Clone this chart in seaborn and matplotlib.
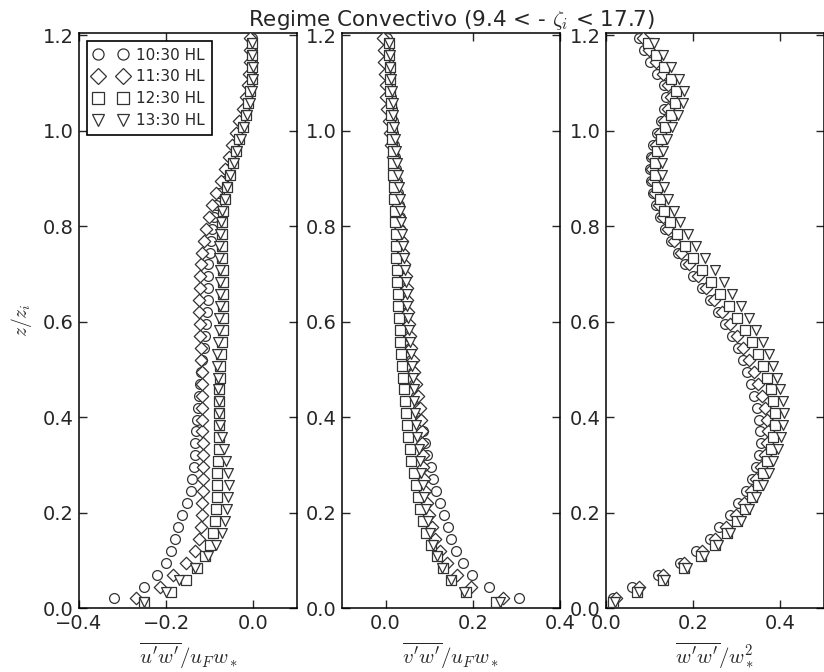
import numpy as np
import pandas as pd
import matplotlib
matplotlib.use("Agg")
import matplotlib.pyplot as plt
from matplotlib.lines import Line2D
import seaborn as sns

# ---------------- data ----------------
times = ["10:30 HL", "11:30 HL", "12:30 HL", "13:30 HL"]

# heights (z/zi) for 10:30 and 11:30
Z_A = [0.020, 0.045, 0.070, 0.095, 0.120, 0.145, 0.170, 0.195, 0.220, 0.245,
       0.270, 0.295, 0.320, 0.345, 0.370, 0.395, 0.420, 0.445, 0.470, 0.495,
       0.520, 0.545, 0.570, 0.595, 0.620, 0.645, 0.670, 0.695, 0.720, 0.745,
       0.770, 0.795, 0.820, 0.845, 0.870, 0.895, 0.920, 0.945, 0.970, 0.995,
       1.020, 1.045, 1.070, 1.095, 1.120, 1.145, 1.170, 1.195]
# heights (z/zi) for 12:30 and 13:30
Z_B = [0.012, 0.033, 0.058, 0.083, 0.108, 0.133, 0.158, 0.183, 0.208, 0.233,
       0.258, 0.283, 0.308, 0.333, 0.358, 0.383, 0.408, 0.433, 0.458, 0.483,
       0.508, 0.533, 0.558, 0.583, 0.608, 0.633, 0.658, 0.683, 0.708, 0.733,
       0.758, 0.783, 0.808, 0.833, 0.858, 0.883, 0.908, 0.933, 0.958, 0.983,
       1.008, 1.033, 1.058, 1.083, 1.108, 1.133, 1.158, 1.183]

# u'w'/uF w*
uw_1030 = [-0.320, -0.250, -0.220, -0.200, -0.190, -0.179, -0.172, -0.163, -0.153, -0.144,
           -0.140, -0.137, -0.135, -0.133, -0.131, -0.129, -0.127, -0.125, -0.122, -0.120,
           -0.117, -0.113, -0.110, -0.108, -0.106, -0.105, -0.105, -0.104, -0.103, -0.100,
           -0.097, -0.094, -0.090, -0.085, -0.078, -0.070, -0.062, -0.053, -0.045, -0.037,
           -0.030, -0.022, -0.015, -0.010, -0.006, -0.004, -0.003, -0.003]
uw_1130 = [-0.270, -0.215, -0.185, -0.155, -0.135, -0.125, -0.120, -0.118, -0.117, -0.116,
           -0.115, -0.115, -0.115, -0.116, -0.117, -0.117, -0.118, -0.118, -0.118, -0.119,
           -0.120, -0.121, -0.122, -0.123, -0.124, -0.124, -0.123, -0.122, -0.120, -0.117,
           -0.113, -0.108, -0.102, -0.094, -0.085, -0.075, -0.066, -0.057, -0.048, -0.040,
           -0.032, -0.025, -0.018, -0.013, -0.010, -0.008, -0.007, -0.007]
uw_1230 = [-0.250, -0.190, -0.155, -0.130, -0.112, -0.100, -0.093, -0.088, -0.085, -0.084,
           -0.083, -0.083, -0.082, -0.080, -0.079, -0.079, -0.079, -0.079, -0.078, -0.077,
           -0.076, -0.074, -0.072, -0.070, -0.069, -0.069, -0.069, -0.069, -0.070, -0.071,
           -0.072, -0.072, -0.071, -0.069, -0.065, -0.060, -0.054, -0.047, -0.040, -0.032,
           -0.025, -0.018, -0.012, -0.007, -0.004, -0.003, -0.003, -0.004]
uw_1330 = [-0.250, -0.200, -0.170, -0.135, -0.105, -0.085, -0.072, -0.064, -0.060, -0.058,
           -0.057, -0.059, -0.063, -0.068, -0.073, -0.077, -0.079, -0.080, -0.081, -0.082,
           -0.083, -0.083, -0.082, -0.080, -0.078, -0.077, -0.076, -0.076, -0.077, -0.078,
           -0.078, -0.077, -0.075, -0.071, -0.066, -0.060, -0.053, -0.045, -0.037, -0.029,
           -0.021, -0.014, -0.008, -0.004, -0.002, -0.002, -0.003, -0.004]

# v'w'/uF w*
vw_1030 = [0.305, 0.238, 0.198, 0.177, 0.162, 0.151, 0.142, 0.133, 0.124, 0.115,
           0.108, 0.103, 0.096, 0.090, 0.085, 0.080, 0.075, 0.070, 0.066, 0.062,
           0.058, 0.055, 0.052, 0.050, 0.048, 0.046, 0.044, 0.042, 0.040, 0.038,
           0.036, 0.034, 0.032, 0.030, 0.028, 0.026, 0.024, 0.022, 0.020, 0.018,
           0.016, 0.014, 0.012, 0.010, 0.008, 0.006, 0.005, 0.004]
vw_1130 = [0.270, 0.195, 0.163, 0.140, 0.125, 0.114, 0.106, 0.100, 0.095, 0.091,
           0.088, 0.086, 0.085, 0.084, 0.083, 0.081, 0.078, 0.074, 0.070, 0.066,
           0.062, 0.059, 0.056, 0.054, 0.052, 0.050, 0.048, 0.046, 0.043, 0.040,
           0.037, 0.034, 0.031, 0.028, 0.025, 0.022, 0.019, 0.016, 0.013, 0.010,
           0.007, 0.004, 0.002, 0.000, -0.002, -0.003, -0.004, -0.005]
vw_1230 = [0.253, 0.185, 0.150, 0.132, 0.118, 0.104, 0.093, 0.085, 0.079, 0.074,
           0.069, 0.064, 0.059, 0.055, 0.051, 0.048, 0.046, 0.044, 0.042, 0.040,
           0.038, 0.036, 0.034, 0.032, 0.030, 0.029, 0.028, 0.027, 0.026, 0.025,
           0.024, 0.023, 0.022, 0.021, 0.020, 0.019, 0.018, 0.017, 0.016, 0.015,
           0.014, 0.013, 0.012, 0.011, 0.010, 0.009, 0.008, 0.008]
vw_1330 = [0.262, 0.180, 0.150, 0.130, 0.118, 0.109, 0.102, 0.097, 0.092, 0.088,
           0.085, 0.082, 0.079, 0.076, 0.073, 0.070, 0.068, 0.066, 0.064, 0.062,
           0.060, 0.058, 0.056, 0.054, 0.052, 0.050, 0.048, 0.046, 0.044, 0.042,
           0.040, 0.038, 0.036, 0.034, 0.032, 0.030, 0.028, 0.026, 0.024, 0.022,
           0.020, 0.018, 0.016, 0.014, 0.012, 0.010, 0.009, 0.008]

# w'w'/w*^2
ww_1030 = [0.017, 0.060, 0.120, 0.170, 0.207, 0.238, 0.260, 0.285, 0.303, 0.320,
           0.334, 0.345, 0.352, 0.355, 0.354, 0.350, 0.346, 0.340, 0.333, 0.323,
           0.315, 0.303, 0.288, 0.273, 0.256, 0.238, 0.220, 0.200, 0.182, 0.164,
           0.148, 0.135, 0.124, 0.115, 0.108, 0.103, 0.101, 0.103, 0.108, 0.116,
           0.125, 0.134, 0.138, 0.132, 0.118, 0.102, 0.088, 0.075]
ww_1130 = [0.022, 0.075, 0.130, 0.180, 0.220, 0.250, 0.275, 0.298, 0.316, 0.332,
           0.345, 0.356, 0.364, 0.369, 0.371, 0.369, 0.364, 0.357, 0.349, 0.339,
           0.328, 0.315, 0.300, 0.284, 0.266, 0.248, 0.229, 0.210, 0.191, 0.173,
           0.157, 0.143, 0.131, 0.121, 0.113, 0.108, 0.106, 0.108, 0.114, 0.123,
           0.133, 0.143, 0.148, 0.143, 0.130, 0.114, 0.098, 0.084]
ww_1230 = [0.015, 0.070, 0.130, 0.178, 0.218, 0.250, 0.277, 0.300, 0.318, 0.334,
           0.348, 0.360, 0.370, 0.378, 0.384, 0.387, 0.387, 0.384, 0.378, 0.370,
           0.360, 0.348, 0.334, 0.318, 0.300, 0.281, 0.261, 0.240, 0.220, 0.200,
           0.181, 0.163, 0.147, 0.134, 0.124, 0.117, 0.113, 0.113, 0.117, 0.125,
           0.136, 0.148, 0.158, 0.160, 0.150, 0.133, 0.114, 0.097]
ww_1330 = [0.020, 0.075, 0.135, 0.185, 0.225, 0.258, 0.285, 0.309, 0.328, 0.345,
           0.360, 0.373, 0.384, 0.394, 0.402, 0.407, 0.408, 0.405, 0.400, 0.393,
           0.384, 0.373, 0.360, 0.345, 0.328, 0.310, 0.290, 0.270, 0.249, 0.228,
           0.207, 0.188, 0.170, 0.155, 0.143, 0.134, 0.129, 0.128, 0.131, 0.139,
           0.151, 0.165, 0.176, 0.178, 0.168, 0.150, 0.130, 0.110]

x_ticks_labels = [[-0.4, -0.2, 0.0], [0.0, 0.2, 0.4], [0.0, 0.2, 0.4]]
y_ticks = [0.0, 0.2, 0.4, 0.6, 0.8, 1.0, 1.2]
x_labels = [r"$\overline{u'w'}/u_Fw_*$", r"$\overline{v'w'}/u_Fw_*$", r"$\overline{w'w'}/w_*^2$"]
title = r"Regime Convectivo (9.4 < - $\zeta_i$ < 17.7)"

# ---------------- build tables ----------------
def build(series):
    frames = []
    for t, zz, vals in zip(times, [Z_A, Z_A, Z_B, Z_B], series):
        frames.append(pd.DataFrame({"z": zz, "val": vals, "time": t}))
    return pd.concat(frames, ignore_index=True)

panels = [build([uw_1030, uw_1130, uw_1230, uw_1330]),
          build([vw_1030, vw_1130, vw_1230, vw_1330]),
          build([ww_1030, ww_1130, ww_1230, ww_1330])]

# ---------------- style ----------------
sns.set_style("ticks")
plt.rcParams["font.family"] = ["DejaVu Sans"]
plt.rcParams["mathtext.fontset"] = "cm"
plt.rcParams["axes.linewidth"] = 1.1

markers = {"10:30 HL": "o", "11:30 HL": "D", "12:30 HL": "s", "13:30 HL": "v"}
sizes = {"o": 50, "D": 40, "s": 45, "v": 50}
edge = "#333333"

fig = plt.figure(figsize=(8.24, 6.72), dpi=100)
W, H = 824.0, 672.0
lefts = [79, 342, 606]
axw = 218
bottom_px, top_px = 608, 33
xlims = [(-0.4, 0.1), (-0.1, 0.4), (0.0, 0.5)]

axes = []
for i, lp in enumerate(lefts):
    ax = fig.add_axes([lp / W, (H - bottom_px) / H, axw / W, (bottom_px - top_px) / H])
    df = panels[i]
    for t in times:
        sub = df[df["time"] == t]
        m = markers[t]
        sns.scatterplot(data=sub, x="val", y="z", marker=m, s=sizes[m],
                        color="white", edgecolor=edge, linewidth=0.9,
                        ax=ax, legend=False, zorder=3)
    ax.set_xlim(*xlims[i])
    ax.set_ylim(0.0, 1.205)
    ax.set_xticks(x_ticks_labels[i])
    ax.set_yticks(y_ticks)
    ax.tick_params(direction="in", top=True, right=True, length=6, width=1,
                   labelsize=14, pad=4)
    ax.set_xlabel(x_labels[i], fontsize=15, labelpad=6)
    ax.set_ylabel("")
    for sp in ax.spines.values():
        sp.set_visible(True)
        sp.set_color("black")
    axes.append(ax)

axes[0].set_ylabel(r"$z/z_i$", fontsize=14, labelpad=6)

handles = [Line2D([], [], linestyle="none", marker=markers[t], markersize=8,
                  markerfacecolor="white", markeredgecolor=edge, markeredgewidth=0.9)
           for t in times]
leg = axes[0].legend(handles, times, loc="upper left", numpoints=2, fontsize=11,
                     frameon=True, fancybox=False, edgecolor="black",
                     handlelength=2.2, borderaxespad=0.5, labelspacing=0.45,
                     handletextpad=0.6, borderpad=0.45)
leg.get_frame().set_linewidth(1.2)
leg.get_frame().set_alpha(1)

axes[1].set_title(title, fontsize=15.5, pad=5)

fig.savefig("out.png", dpi=100)
